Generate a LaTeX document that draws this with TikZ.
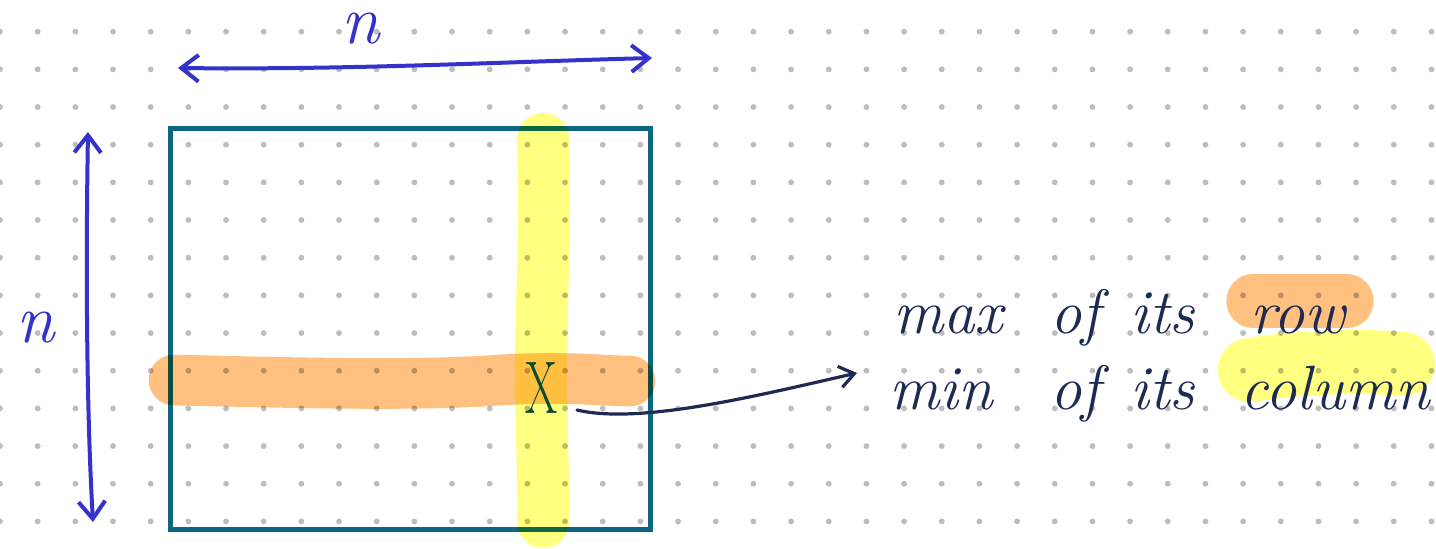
\documentclass[tikz,border=0pt]{standalone}
\usetikzlibrary{arrows.meta}
\definecolor{dotc}{HTML}{BDBDBD}
\definecolor{sqc}{HTML}{0F6680}
\definecolor{bluec}{HTML}{3333CC}
\definecolor{inkc}{HTML}{1E2A52}
\definecolor{xc}{HTML}{0E4A2E}
\definecolor{orc}{HTML}{FFC080}
\definecolor{ylc}{HTML}{FFFF80}
\tikzset{
  sqbox/.style={draw=sqc, line width=3.75pt, minimum width=360pt, minimum height=300pt, inner sep=0pt},
  dimarrow/.style={draw=bluec, line width=3pt, line cap=round, {Straight Barb[length=13pt,width=20pt]}-{Straight Barb[length=13pt,width=20pt]}},
  dimlabel/.style={text=bluec, font=\fontsize{52}{54}\selectfont\itshape, inner sep=0pt},
  hlor/.style={draw=orc, line cap=round},
  hlyl/.style={draw=ylc, line cap=round},
  word/.style={text=inkc, font=\fontsize{47}{50}\selectfont\itshape, anchor=base west, inner sep=0pt},
  conn/.style={draw=inkc, line width=2.4pt, line cap=round, -{Straight Barb[length=11pt,width=16pt]}},
}
\begin{document}
\begin{tikzpicture}[x=0.75pt,y=-0.75pt]
\useasboundingbox (0,0) rectangle (1436,549);
\fill[white] (0,0) rectangle (1436,549);
% dot grid
\foreach \i in {0,...,38}
  \foreach \j in {0,...,13}
    \fill[dotc] ({\i*37.67},{31.7+\j*37.67}) circle (2.2pt);
% square
\node[sqbox] (sq) at (410,329) {};
% highlights (multiply)
\begin{scope}[blend mode=multiply]
  \draw[hlyl, line width=39pt] (543,139) .. controls (546,250) and (540,320) .. (541,390) .. controls (542,450) and (544,490) .. (543,522);
  \draw[hlor, line width=38pt] (174,380) .. controls (300,383) and (420,386) .. (500,380) .. controls (570,376) and (600,381) .. (630,381);
  \draw[hlor, line width=40pt] (1253,301) -- (1347,301);
  \draw[hlyl, line width=48pt] (1250,370) .. controls (1300,362) and (1360,360) .. (1403,364);
\end{scope}
% X mark
\node[text=xc, font=\fontsize{56}{60}\selectfont, inner sep=0pt] (X) at (542,388) {\scalebox{0.62}[1]{X}};
% dimension arrows
\coordinate (hl) at (178,68);
\coordinate (hr) at (652,58);
\draw[dimarrow] (hl) .. controls (350,70) and (500,62) .. (hr);
\node[dimlabel] (ntop) at (361,29) {n};
\coordinate (vt) at (88,132);
\coordinate (vb) at (93,522);
\draw[dimarrow] (vt) .. controls (86,250) and (86,400) .. (vb);
\node[dimlabel] (nleft) at (36,328) {n};
% text
\node[word] (w1) at (893,333) {max};
\node[word] (w2) at (1050,333) {of};
\node[word] (w3) at (1130,333) {its};
\node[word] (w4) at (1250,333) {row};
\node[word] (v1) at (889,409) {min};
\node[word] (v2) at (1050,409) {of};
\node[word] (v3) at (1130,409) {its};
\node[word] (v4) at (1240,409) {column};
% connector
\coordinate (ce) at (857,373);
\draw[conn] ([shift={(35,22)}]X.center) .. controls (640,425) and (760,395) .. (ce);
\end{tikzpicture}
\end{document}
